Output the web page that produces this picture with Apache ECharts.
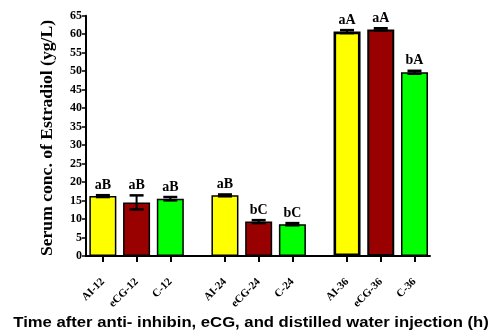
<!DOCTYPE html>
<html>
<head>
<meta charset="utf-8">
<script src="https://cdn.jsdelivr.net/npm/echarts@6/dist/echarts.min.js"></script>
<style>
html,body{margin:0;padding:0;background:#fff;}
#chart{width:493px;height:333px;}
</style>
</head>
<body>
<div id="chart"></div>
<script>
// ---- data ----
var categories = ['AI-12','eCG-12','C-12','AI-24','eCG-24','C-24','AI-36','eCG-36','C-36'];
var means      = [16.2, 14.5, 15.5, 16.4, 9.3, 8.6, 60.7, 61.3, 49.7];
var errors     = [0.25, 1.9, 0.45, 0.25, 0.4, 0.3, 0.4, 0.3, 0.4];
var letters    = ['aB','aB','aB','aB','bC','bC','aA','aA','bA'];
var yMin = 0, yMax = 65, yStep = 5;
var yTitle = 'Serum conc. of Estradiol (yg/L)';
var xTitle = 'Time after anti- inhibin, eCG, and distilled water injection (h)';

// ---- layout helpers ----
var groupGap = 0.62; // extra space between time groups
var positions = categories.map(function(c, i){ return i + Math.floor(i/3)*groupGap; });
var fills = ['#FFFF00', '#990000', '#00FF00'];
var borders = [1.5,1.5,1.5,1.5,1.5,1.5,2.6,2,1.5];
var serif = '"Liberation Serif","Times New Roman",serif';

function nameAt(v){
  var best = 0, d = 1e9;
  positions.forEach(function(p, i){ if (Math.abs(p - v) < d){ d = Math.abs(p - v); best = i; } });
  return d < 0.01 ? categories[best] : '';
}

var chart = echarts.init(document.getElementById('chart'));
chart.setOption({
  animation: false,
  backgroundColor: '#fff',
  grid: { left: 86, right: 63, top: 15.7, bottom: 77, containLabel: false, outerBoundsMode: 'none' },
  xAxis: {
    type: 'value', min: -0.5, max: 9.7,
    splitLine: { show: false },
    axisLine: { show: true, onZero: false, lineStyle: { color: '#000', width: 2 } },
    axisTick: { show: true, customValues: positions, length: 6, inside: false, lineStyle: { color: '#000', width: 2 } },
    axisLabel: {
      customValues: positions, rotate: 45, margin: 24,
      formatter: function(v){ return nameAt(v); },
      fontFamily: serif, fontWeight: 'bold', fontSize: 11, color: '#000'
    }
  },
  yAxis: {
    type: 'value', min: yMin, max: yMax, interval: yStep,
    splitLine: { show: false },
    axisLine: { show: true, onZero: false, lineStyle: { color: '#000', width: 2 } },
    axisTick: { show: true, length: 4, lineStyle: { color: '#000', width: 1.5 } },
    axisLabel: { margin: 4, fontFamily: serif, fontWeight: 'bold', fontSize: 12, color: '#000' }
  },
  graphic: [{
    type: 'text', x: 251, y: 323, scaleX: 1.19,
    style: { text: xTitle, textAlign: 'center', textVerticalAlign: 'middle',
             font: 'bold 14px "Liberation Sans", Arial, sans-serif', fill: '#000' }
  }, {
    type: 'text', x: 48, y: 138, rotation: Math.PI / 2, scaleX: 1.1,
    style: { text: yTitle, textAlign: 'center', textVerticalAlign: 'middle',
             font: 'bold 16px ' + serif, fill: '#000' }
  }],
  series: [{
    type: 'bar',
    barWidth: 27,
    data: means.map(function(v, i){
      return { value: [positions[i], v], itemStyle: { color: fills[i % 3], borderColor: '#000', borderWidth: borders[i] } };
    })
  }, {
    type: 'custom',
    renderItem: function(params, api){
      var i = params.dataIndex;
      var x = positions[i], v = means[i], e = errors[i];
      var top = api.coord([x, v + e]);
      var bot = api.coord([x, v - e]);
      var hw = 7;
      return {
        type: 'group',
        children: [
          { type: 'line', shape: { x1: top[0], y1: top[1], x2: bot[0], y2: bot[1] }, style: { stroke: '#000', lineWidth: 2 } },
          { type: 'line', shape: { x1: top[0]-hw, y1: top[1], x2: top[0]+hw, y2: top[1] }, style: { stroke: '#000', lineWidth: 2.5 } },
          { type: 'line', shape: { x1: bot[0]-hw, y1: bot[1], x2: bot[0]+hw, y2: bot[1] }, style: { stroke: '#000', lineWidth: 2.5 } },
          { type: 'text', x: top[0], y: top[1] - 3,
            style: { text: letters[i], textAlign: 'center', textVerticalAlign: 'bottom',
                     font: 'bold 14px ' + serif, fill: '#000' } }
        ]
      };
    },
    data: means.map(function(v, i){ return [positions[i], v]; }),
    z: 5
  }]
});
</script>
</body>
</html>
